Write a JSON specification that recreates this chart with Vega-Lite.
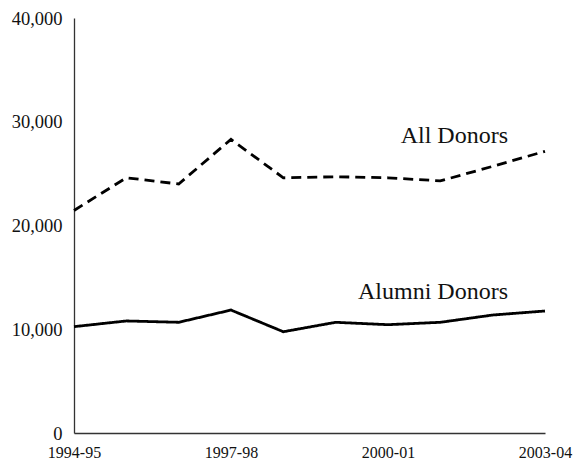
{
  "$schema": "https://vega.github.io/schema/vega-lite/v6.json",
  "width": 471,
  "height": 415,
  "autosize": {"type": "none"},
  "padding": {"left": 74, "top": 18, "right": 28, "bottom": 26},
  "background": "white",
  "config": {
    "view": {"stroke": null},
    "font": "Liberation Serif",
    "axis": {"labelFont": "Liberation Serif", "labelColor": "#111", "domainColor": "#333", "grid": false, "ticks": false, "title": null}
  },
  "datasets": {
    "series": [
      {"year": "1994-95", "group": "All Donors", "donors": 21450},
      {"year": "1995-96", "group": "All Donors", "donors": 24600},
      {"year": "1996-97", "group": "All Donors", "donors": 24000},
      {"year": "1997-98", "group": "All Donors", "donors": 28300},
      {"year": "1998-99", "group": "All Donors", "donors": 24600},
      {"year": "1999-00", "group": "All Donors", "donors": 24700},
      {"year": "2000-01", "group": "All Donors", "donors": 24600},
      {"year": "2001-02", "group": "All Donors", "donors": 24300},
      {"year": "2002-03", "group": "All Donors", "donors": 25700},
      {"year": "2003-04", "group": "All Donors", "donors": 27150},
      {"year": "1994-95", "group": "Alumni Donors", "donors": 10250},
      {"year": "1995-96", "group": "Alumni Donors", "donors": 10800},
      {"year": "1996-97", "group": "Alumni Donors", "donors": 10670},
      {"year": "1997-98", "group": "Alumni Donors", "donors": 11850},
      {"year": "1998-99", "group": "Alumni Donors", "donors": 9760},
      {"year": "1999-00", "group": "Alumni Donors", "donors": 10670},
      {"year": "2000-01", "group": "Alumni Donors", "donors": 10440},
      {"year": "2001-02", "group": "Alumni Donors", "donors": 10670},
      {"year": "2002-03", "group": "Alumni Donors", "donors": 11370},
      {"year": "2003-04", "group": "Alumni Donors", "donors": 11760}
    ],
    "labels": [
      {"year": "2003-04", "group": "All Donors", "donors": 27950},
      {"year": "2003-04", "group": "Alumni Donors", "donors": 12950}
    ]
  },
  "layer": [
    {
      "data": {"name": "series"},
      "mark": {"type": "line", "strokeWidth": 2.8, "color": "black"},
      "encoding": {
        "x": {"field": "year", "type": "ordinal", "sort": null,
              "scale": {"type": "point", "padding": 0},
              "axis": {"values": ["1994-95", "1997-98", "2000-01", "2003-04"], "labelAngle": 0, "labelFontSize": 16, "labelPadding": 11, "domainWidth": 1.3}},
        "y": {"field": "donors", "type": "quantitative",
              "scale": {"domain": [0, 40000], "nice": false},
              "axis": {"values": [0, 10000, 20000, 30000, 40000], "format": ",d", "labelFontSize": 18.5, "labelPadding": 12, "domainWidth": 1.3}},
        "strokeDash": {"field": "group", "type": "nominal",
                       "scale": {"domain": ["All Donors", "Alumni Donors"], "range": [[10, 6], [1, 0]]},
                       "legend": null}
      }
    },
    {
      "data": {"name": "labels"},
      "mark": {"type": "text", "align": "right", "baseline": "alphabetic", "dx": -37, "fontSize": 24, "color": "#111"},
      "encoding": {
        "x": {"field": "year", "type": "ordinal"},
        "y": {"field": "donors", "type": "quantitative"},
        "text": {"field": "group"}
      }
    }
  ]
}
